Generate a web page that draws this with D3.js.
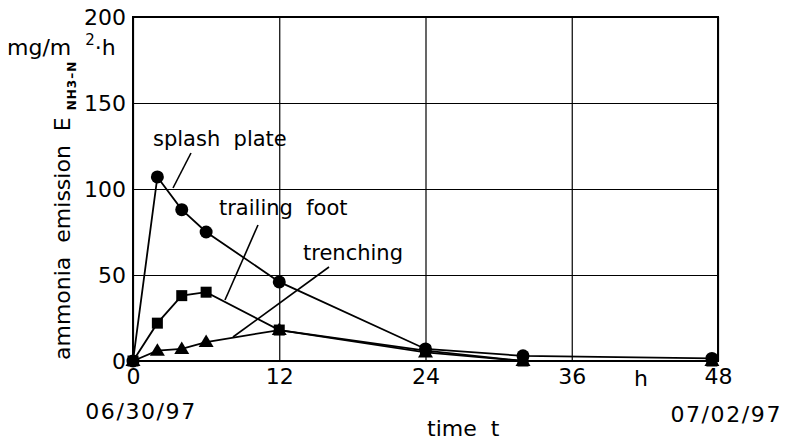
<!DOCTYPE html>
<html lang="en">
<head>
<meta charset="UTF-8">
<title>ammonia emission</title>
<script src="https://d3js.org/d3.v7.min.js"></script>
<style>
  * { margin: 0; padding: 0; }
  body { background: #fff; }
  text { font-family: "DejaVu Sans", sans-serif; fill: #000; white-space: pre; }
</style>
</head>
<body>
<svg width="785" height="440"></svg>
<script>
  // data (time in h, emission in mg/m²·h)
  var times = [0, 2, 4, 6, 12, 24, 32, 47.5];
  var splashPlate = [0, 107, 88, 75, 46, 7, 3, 1.5];
  var trailingFoot = [0, 22, 38, 40, 18, 6, 0, 0];
  var trenching = [0, 6, 7, 11, 18, 5, 0, 0];
  var xTicks = [0, 12, 24, 36, 48];
  var yTicks = [0, 50, 100, 150, 200];

  var plotL = 133, plotR = 718, plotT = 17, plotB = 361;
  var svg = d3.select('svg');

  var x = d3.scaleLinear().domain([0, 48]).range([plotL, plotR]);
  var y = d3.scaleLinear().domain([0, 200]).range([plotB, plotT]);

  // grid + tick labels
  var gx = svg.append('g')
    .attr('transform', 'translate(0,' + plotB + ')')
    .call(d3.axisBottom(x).tickValues(xTicks).tickSize(-(plotB - plotT)).tickPadding(7));
  var gy = svg.append('g')
    .attr('transform', 'translate(' + plotL + ',0)')
    .call(d3.axisLeft(y).tickValues(yTicks).tickSize(-(plotR - plotL)).tickPadding(7));
  [gx, gy].forEach(function (g) {
    g.select('.domain').remove();
    g.selectAll('line').attr('stroke', '#000').attr('stroke-width', 1.2);
    g.selectAll('text').style('font-size', '22px').attr('fill', '#000');
  });
  gy.selectAll('text').attr('dy', '0.36em');

  // frame
  svg.append('rect')
    .attr('x', plotL).attr('y', plotT)
    .attr('width', plotR - plotL).attr('height', plotB - plotT)
    .attr('fill', 'none').attr('stroke', '#000').attr('stroke-width', 2);

  var line = d3.line()
    .x(function (d) { return x(d[0]); })
    .y(function (d) { return y(d[1]); });

  function pairs(vals) {
    return times.map(function (t, i) { return [t, vals[i]]; });
  }

  var series = [
    { vals: trenching, shape: 'tri' },
    { vals: trailingFoot, shape: 'sq' },
    { vals: splashPlate, shape: 'circ' }
  ];

  series.forEach(function (s) {
    var pts = pairs(s.vals);
    svg.append('path')
      .attr('d', line(pts))
      .attr('fill', 'none')
      .attr('stroke', '#000')
      .attr('stroke-width', 1.8);

    var g = svg.append('g');
    pts.forEach(function (p) {
      var cx = x(p[0]), cy = y(p[1]);
      if (s.shape === 'circ') {
        g.append('circle').attr('cx', cx).attr('cy', cy).attr('r', 6.5).attr('fill', '#000');
      } else if (s.shape === 'sq') {
        g.append('rect').attr('x', cx - 5.5).attr('y', cy - 5.5).attr('width', 11).attr('height', 11).attr('fill', '#000');
      } else {
        g.append('path')
          .attr('d', 'M' + (cx - 7.5) + ',' + (cy + 5) + 'L' + (cx + 7.5) + ',' + (cy + 5) + 'L' + cx + ',' + (cy - 7.5) + 'Z')
          .attr('fill', '#000');
      }
    });
  });

  // labels with leader lines
  var labels = [
    { text: 'splash  plate', tx: 153, ty: 146, l: [191, 153, 173, 188] },
    { text: 'trailing  foot', tx: 219, ty: 215, l: [258, 225, 225, 300] },
    { text: 'trenching', tx: 303, ty: 260, l: [329, 267, 233, 337] }
  ];
  labels.forEach(function (d) {
    svg.append('text').attr('x', d.tx).attr('y', d.ty)
      .style('font-size', '21px').text(d.text);
    svg.append('line')
      .attr('x1', d.l[0]).attr('y1', d.l[1]).attr('x2', d.l[2]).attr('y2', d.l[3])
      .attr('stroke', '#000').attr('stroke-width', 1.6);
  });

  // unit
  var unit = svg.append('text').attr('x', 7).attr('y', 55).style('font-size', '22px');
  unit.append('tspan').text('mg/m  ');
  unit.append('tspan').attr('dy', -10).style('font-size', '15px').text('2');
  unit.append('tspan').attr('dy', 10).text('·h');

  // y title
  var yt = svg.append('text')
    .attr('transform', 'translate(70,360) rotate(-90)')
    .style('font-size', '22px');
  yt.append('tspan').text('ammonia  emission  E ');
  yt.append('tspan').attr('dy', 6).style('font-size', '12px').style('font-weight', 'bold')
    .style('letter-spacing', '1px').text('NH3\u2013N');

  // x extras
  svg.append('text').attr('x', 634).attr('y', 386).style('font-size', '22px').text('h');
  svg.append('text').attr('x', 141).attr('y', 419).attr('text-anchor', 'middle')
    .style('font-size', '22px').style('letter-spacing', '1.6px').text('06/30/97');
  svg.append('text').attr('x', 782).attr('y', 422).attr('text-anchor', 'end')
    .style('font-size', '22px').style('letter-spacing', '1.6px').text('07/02/97');
  svg.append('text').attr('x', 427).attr('y', 436).style('font-size', '22px').text('time  t');
</script>
</body>
</html>
